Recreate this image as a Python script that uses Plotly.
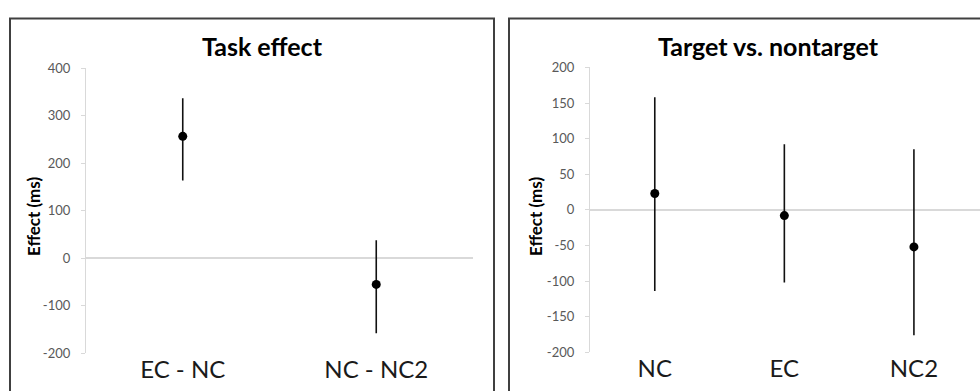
import plotly.graph_objects as go

# ---- data ----
task_categories = ["EC - NC", "NC - NC2"]
task_effect = [257, -55]
task_err_plus = [80, 93]
task_err_minus = [93, 103]

target_categories = ["NC", "EC", "NC2"]
target_effect = [23, -8, -52]
target_err_plus = [135, 100, 137]
target_err_minus = [137, 94, 124]

left_ticks = [400, 300, 200, 100, 0, -100, -200]
right_ticks = [200, 150, 100, 50, 0, -50, -100, -150, -200]

W, H = 980, 391
FONT = "Lato"
AXIS_GRAY = "#d9d9d9"
TICK_GRAY = "#595959"
FRAME = "#404040"

fig = go.Figure()
fig.add_trace(go.Scatter(
    x=task_categories, y=task_effect, mode="markers",
    marker=dict(color="black", size=9),
    error_y=dict(type="data", symmetric=False, array=task_err_plus,
                 arrayminus=task_err_minus, color="#111111", thickness=1.6, width=0),
    xaxis="x", yaxis="y", showlegend=False, hoverinfo="skip"))
fig.add_trace(go.Scatter(
    x=target_categories, y=target_effect, mode="markers",
    marker=dict(color="black", size=9),
    error_y=dict(type="data", symmetric=False, array=target_err_plus,
                 arrayminus=target_err_minus, color="#111111", thickness=1.6, width=0),
    xaxis="x2", yaxis="y2", showlegend=False, hoverinfo="skip"))

def px(x):
    return x / W

def py(y):
    return 1 - y / H

common_x = dict(showline=False, ticks="", showgrid=False, zeroline=False,
                tickfont=dict(family=FONT, size=24, color="#1a1a1a"))
common_y = dict(showline=True, linecolor=AXIS_GRAY, linewidth=1.2, ticks="outside",
                ticklen=4, tickcolor=AXIS_GRAY, showgrid=False, zeroline=True,
                zerolinecolor=AXIS_GRAY, zerolinewidth=1.5, ticklabelstandoff=8,
                tickfont=dict(family=FONT, size=13, color=TICK_GRAY))

fig.update_layout(
    width=W, height=H, autosize=False, margin=dict(l=0, r=0, t=0, b=0),
    paper_bgcolor="white", plot_bgcolor="white",
    xaxis=dict(domain=[px(86), px(473)], range=[-0.5, 1.5], anchor="y", **common_x),
    yaxis=dict(domain=[py(360), py(63)], range=[-200, 400], tickvals=left_ticks,
               ticktext=[str(v) for v in left_ticks], anchor="x", **common_y),
    xaxis2=dict(domain=[px(590), 1.0], range=[-0.5, 2.51], anchor="y2", **common_x),
    yaxis2=dict(domain=[py(359), py(62)], range=[-200, 200], tickvals=right_ticks,
                ticktext=[str(v) for v in right_ticks], anchor="x2", **common_y),
)

# panel frames
fig.add_shape(type="rect", xref="paper", yref="paper",
              x0=px(10), x1=px(494), y0=py(420), y1=py(11),
              line=dict(color=FRAME, width=2), layer="above")
fig.add_shape(type="rect", xref="paper", yref="paper",
              x0=px(509), x1=px(1010), y0=py(420), y1=py(11),
              line=dict(color=FRAME, width=2), layer="above")

# titles
fig.add_annotation(text="<b>Task effect</b>", xref="paper", yref="paper",
                   x=px(262), y=py(40), xanchor="center", yanchor="middle", showarrow=False,
                   font=dict(family=FONT, size=25, color="black"))
fig.add_annotation(text="<b>Target vs. nontarget</b>", xref="paper", yref="paper",
                   x=px(768), y=py(40), xanchor="center", yanchor="middle", showarrow=False,
                   font=dict(family=FONT, size=25, color="black"))
# y axis titles
fig.add_annotation(text="<b>Effect (ms)</b>", xref="paper", yref="paper",
                   x=px(33), y=py(218), xanchor="center", yanchor="middle",
                   showarrow=False, textangle=-90,
                   font=dict(family=FONT, size=17, color="black"))
fig.add_annotation(text="<b>Effect (ms)</b>", xref="paper", yref="paper",
                   x=px(535), y=py(218), xanchor="center", yanchor="middle",
                   showarrow=False, textangle=-90,
                   font=dict(family=FONT, size=17, color="black"))

fig.write_html("out.html", config={"displayModeBar": False},
               post_script="document.body.style.margin='0';document.body.style.overflow='hidden';")
